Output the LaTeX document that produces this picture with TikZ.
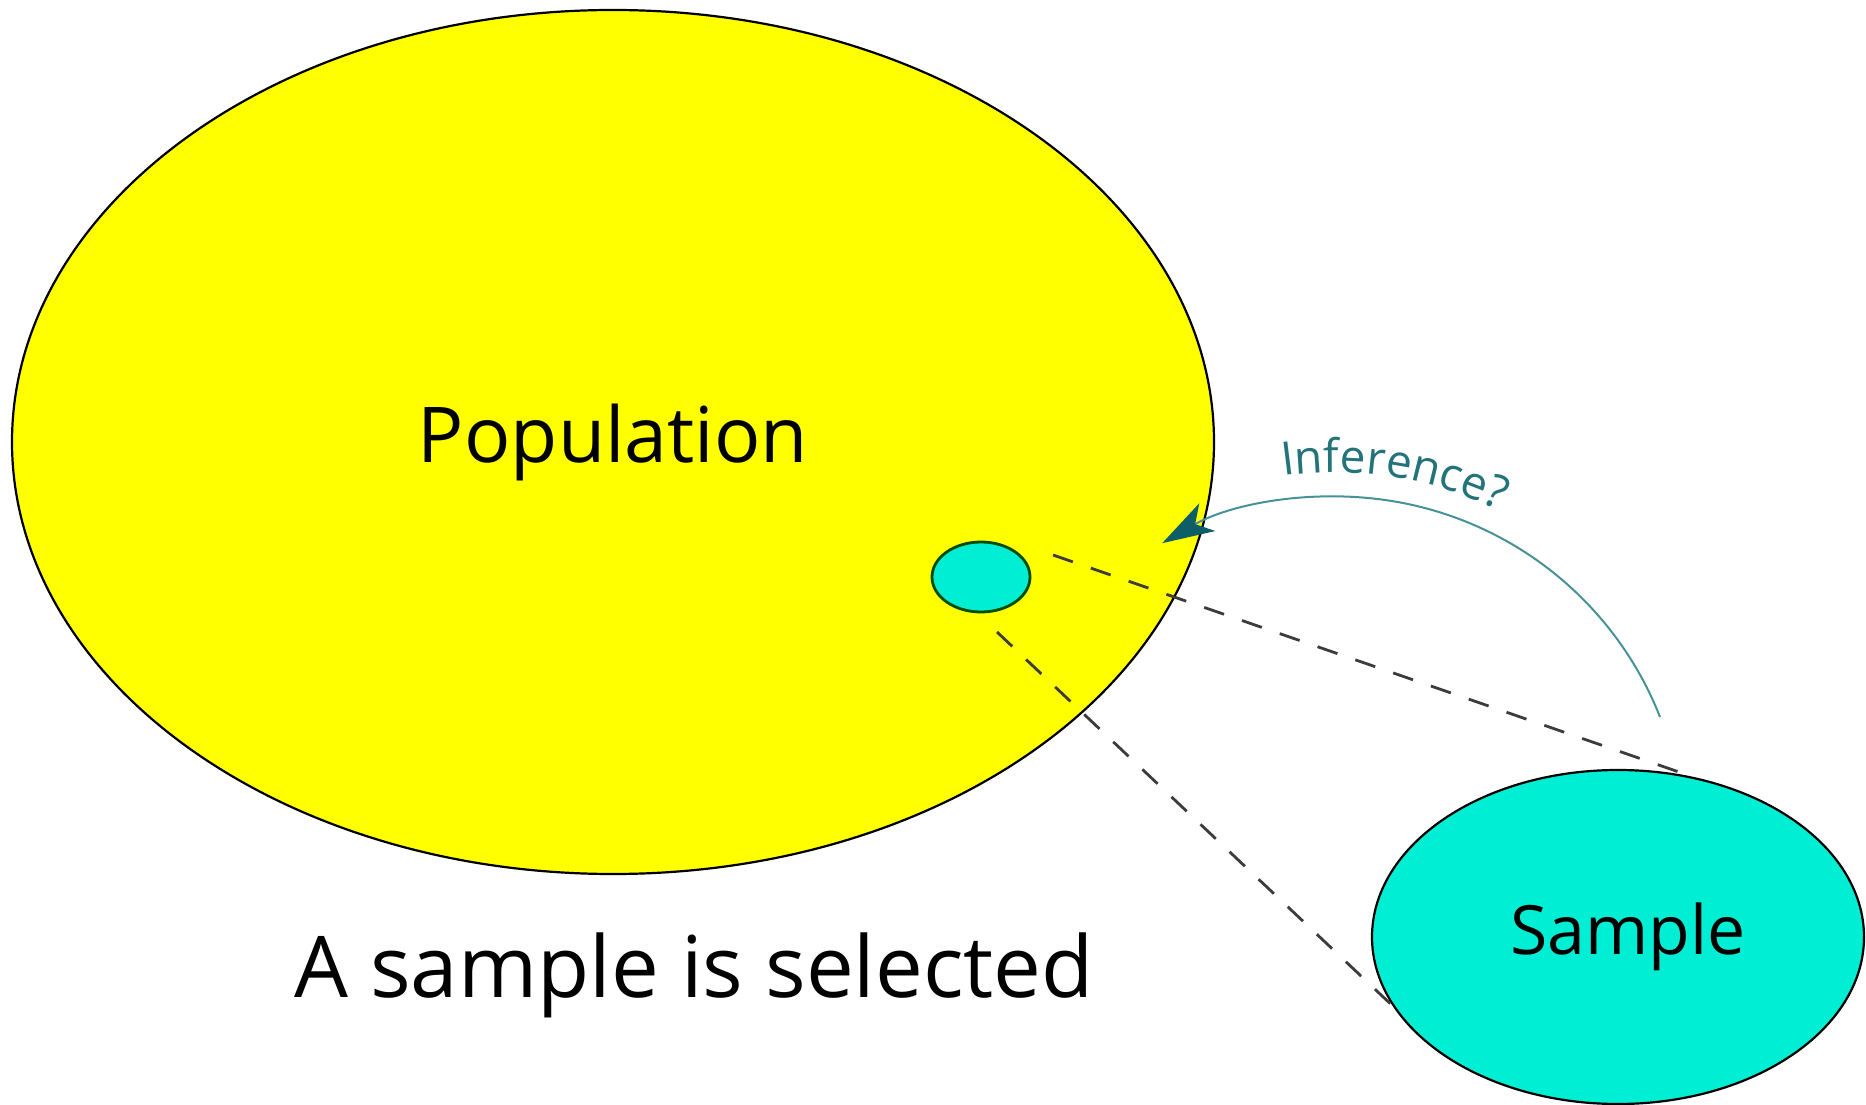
\documentclass[tikz,border=0pt]{standalone}
\usepackage{fontspec}
\setmainfont{Open Sans}
\usetikzlibrary{shapes.geometric, arrows.meta, decorations.text, positioning}
\definecolor{popyellow}{RGB}{255,255,0}
\definecolor{samplecyan}{RGB}{0,238,212}
\definecolor{infteal}{RGB}{70,146,150}
\definecolor{inftext}{RGB}{34,116,122}
\definecolor{infdark}{RGB}{14,94,104}
\definecolor{dashgray}{RGB}{60,60,60}
\newcommand\inffont{\fontsize{23}{28}\selectfont}
\tikzset{>=Stealth}

\begin{document}
\begin{tikzpicture}[x=0.5pt, y=0.5pt,
  popstyle/.style={ellipse, draw=black, line width=1.1pt, fill=popyellow, inner sep=0pt},
  samplestyle/.style={ellipse, draw=black, line width=1.1pt, fill=samplecyan, inner sep=0pt},
  selectline/.style={dashgray, line width=1.4pt, dash pattern=on 10.5pt off 9.5pt},
  infarrow/.style={-{Stealth[length=26pt, width=16pt, inset=7pt, color=infdark]}, infteal, line width=1pt}]
\useasboundingbox (0,0) rectangle (1866,1104);
% population and sample
\node[popstyle, minimum width=601pt, minimum height=432pt] (pop) at (613,662)
  {\fontsize{38.5}{46}\selectfont Population};
\node[samplestyle, draw=black!70!green, line width=1.4pt, minimum width=49pt, minimum height=35pt] (sub) at (981,527) {};
\node[samplestyle, minimum width=246pt, minimum height=167pt] (sample) at (1618,167)
  {\fontsize{34}{40}\selectfont\hspace{10pt}Sample};
\node[anchor=base] (caption) at (694,107) {\fontsize{42.6}{50}\selectfont A sample is selected};
% dashed lines
\coordinate (seltop) at (1053,549);
\coordinate (selbot) at (997,472);
\draw[selectline] (seltop) -- (sample.65);
\draw[selectline] (selbot) -- (sample.197);
% inference
\coordinate (infstart) at (1660,387);
\coordinate (infpath) at (1283,628);
\draw[infarrow] (infstart) arc[start angle=21.5, end angle=120, radius=348];
\path[decorate, decoration={text along path, text color=inftext, text={|\inffont|Inference?}}]
  (infpath) arc[start angle=98, end angle=50, radius=372];
\end{tikzpicture}
\end{document}
